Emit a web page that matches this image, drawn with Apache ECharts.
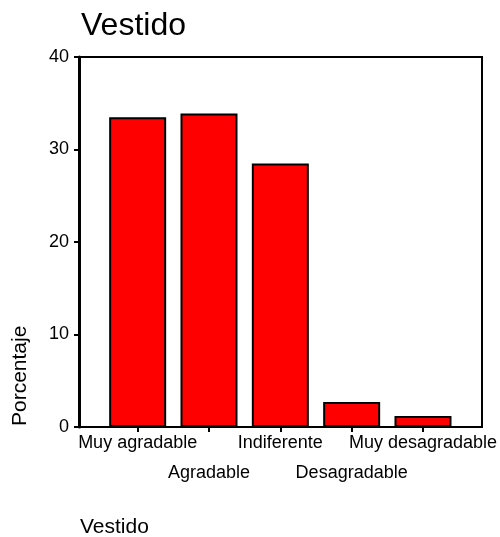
<!DOCTYPE html>
<html>
<head>
<meta charset="utf-8">
<script src="https://cdn.jsdelivr.net/npm/echarts@6/dist/echarts.min.js"></script>
<style>
  html, body { margin: 0; padding: 0; background: #fff; }
  #chart { width: 500px; height: 537px; }
</style>
</head>
<body>
<div id="chart"></div>
<script>
var categories = ['Muy agradable', 'Agradable', 'Indiferente', 'Desagradable', 'Muy desagradable'];
var porcentaje = [33.5, 33.9, 28.5, 2.7, 1.2];
var yTicks = [0, 10, 20, 30, 40];

var font = 'Liberation Sans, Arial, sans-serif';
var chart = echarts.init(document.getElementById('chart'));

chart.setOption({
    animation: false,
    backgroundColor: '#fff',
    title: {
        text: 'Vestido',
        left: 76,
        top: 5,
        textStyle: { fontFamily: font, fontSize: 32, fontWeight: 'normal', color: '#000' }
    },
    grid: [
        // frame
        { left: 79, top: 57, width: 403, height: 370, show: true, borderColor: '#000', borderWidth: 2, backgroundColor: '#fff' },
        // bars
        { left: 102, top: 57, width: 357, height: 370 }
    ],
    xAxis: [
        { gridIndex: 0, type: 'value', show: false, min: 0, max: 1 },
        {
            gridIndex: 1,
            type: 'category',
            data: categories,
            boundaryGap: true,
            axisLine: { show: false },
            axisTick: { show: true, alignWithLabel: true, length: 5, lineStyle: { color: '#000', width: 2 } },
            axisLabel: {
                interval: 0,
                margin: 9,
                fontFamily: font,
                fontSize: 18,
                color: '#000',
                lineHeight: 15,
                formatter: function (v, i) { return i % 2 ? '\n\n' + v : v; }
            }
        }
    ],
    yAxis: [
        {
            gridIndex: 0,
            type: 'value',
            min: 0,
            max: 40,
            interval: 10,
            axisLine: { show: true, lineStyle: { color: '#000', width: 3 } },
            axisTick: { show: true, length: 5, lineStyle: { color: '#000', width: 2 } },
            splitLine: { show: false },
            axisLabel: { margin: 10, fontFamily: font, fontSize: 18, color: '#000',
                customValues: yTicks }
        },
        { gridIndex: 1, type: 'value', min: 0, max: 40, show: false }
    ],
    series: [{
        type: 'bar',
        xAxisIndex: 1,
        yAxisIndex: 1,
        data: porcentaje,
        barWidth: 57,
        itemStyle: { color: '#ff0000', borderColor: '#000', borderWidth: 2 }
    }],
    graphic: [
        {
            type: 'text',
            x: 20,
            y: 426,
            rotation: Math.PI / 2,
            style: { text: 'Porcentaje', font: '21px ' + font, fill: '#000', align: 'left', verticalAlign: 'middle' }
        },
        {
            type: 'text',
            x: 80,
            y: 527,
            style: { text: 'Vestido', font: '21px ' + font, fill: '#000', align: 'left', verticalAlign: 'middle' }
        }
    ]
});
</script>
</body>
</html>
